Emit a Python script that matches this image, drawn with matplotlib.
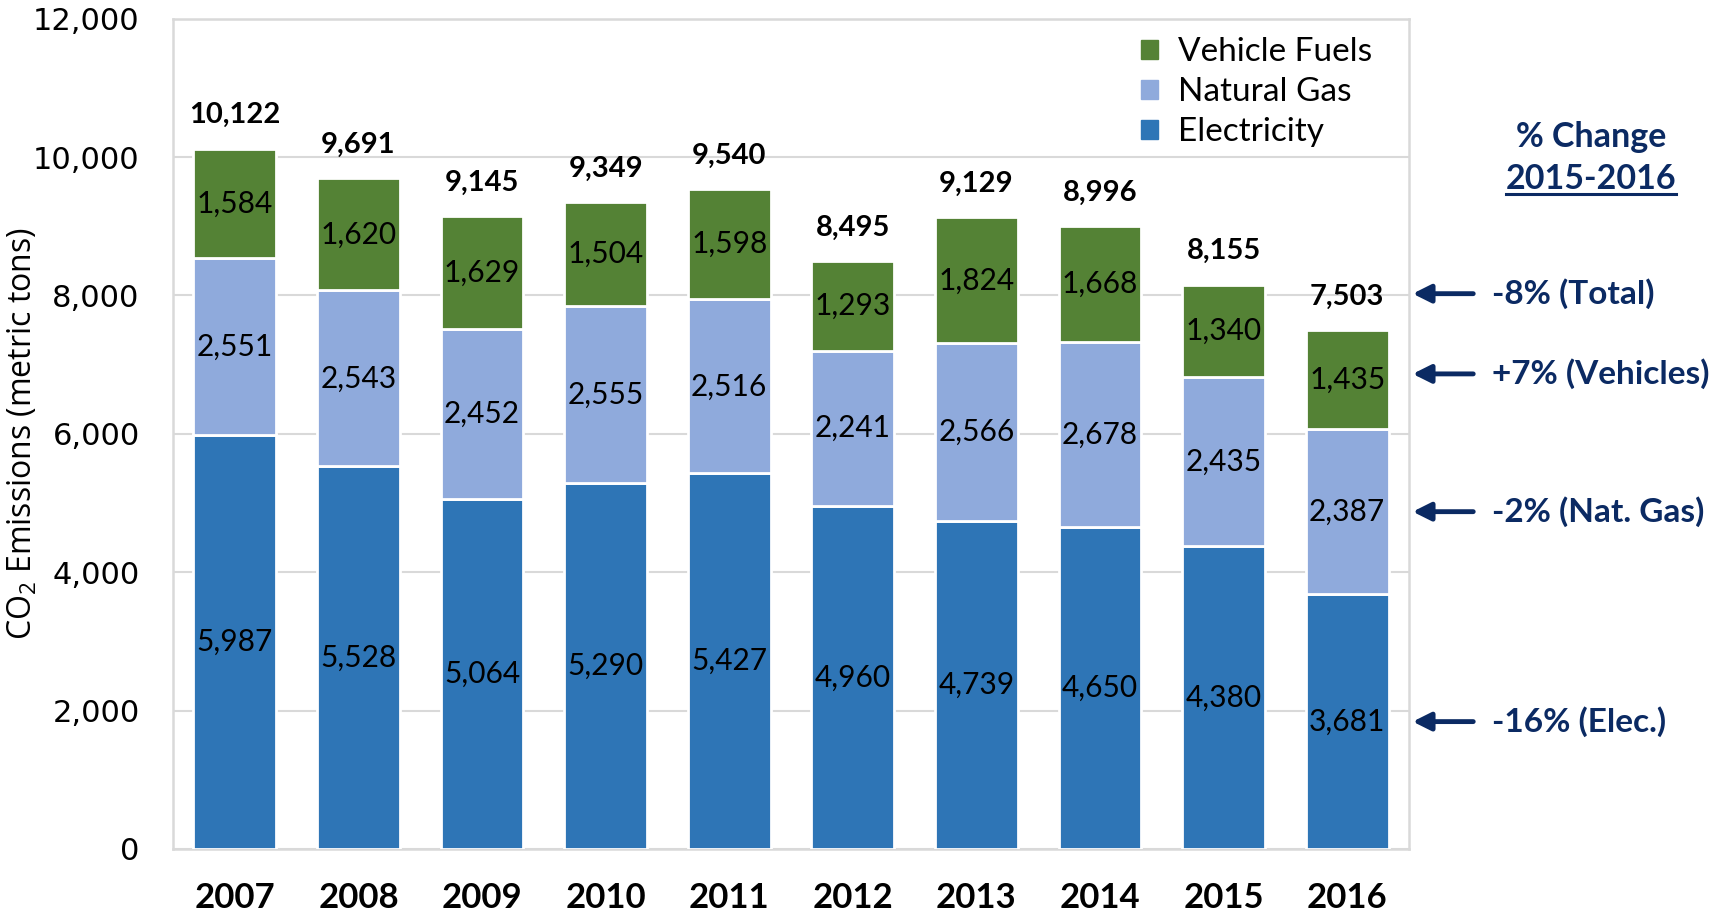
import matplotlib
matplotlib.use("Agg")
import matplotlib.pyplot as plt
import matplotlib.transforms as mtransforms
from matplotlib.patches import Patch
import numpy as np

years = ["2007", "2008", "2009", "2010", "2011", "2012", "2013", "2014", "2015", "2016"]
electricity = [5987, 5528, 5064, 5290, 5427, 4960, 4739, 4650, 4380, 3681]
natural_gas = [2551, 2543, 2452, 2555, 2516, 2241, 2566, 2678, 2435, 2387]
vehicle_fuels = [1584, 1620, 1629, 1504, 1598, 1293, 1824, 1668, 1340, 1435]
totals = [10122, 9691, 9145, 9349, 9540, 8495, 9129, 8996, 8155, 7503]
change_labels = ["-8% (Total)", "+7% (Vehicles)", "-2% (Nat. Gas)", "-16% (Elec.)"]

C_ELEC = "#2E75B6"
C_GAS = "#8FAADC"
C_VEH = "#548235"
NAVY = "#0B2A63"
GRID = "#D9D9D9"
FONT = "Lato"

plt.rcParams["font.family"] = [FONT, "DejaVu Sans"]
plt.rcParams["mathtext.fontset"] = "custom"
plt.rcParams["mathtext.rm"] = "Open Sans"

elec = np.array(electricity)
gas = np.array(natural_gas)
veh = np.array(vehicle_fuels)
x = np.arange(len(years))

fig = plt.figure(figsize=(17.17, 9.17), dpi=100)
ax = fig.add_axes([0.1008, 0.0742, 0.7198, 0.9055])

w = 0.67
ax.bar(x, elec, w, color=C_ELEC, edgecolor="white", linewidth=2, zorder=3)
ax.bar(x, gas, w, bottom=elec, color=C_GAS, edgecolor="white", linewidth=2, zorder=3)
ax.bar(x, veh, w, bottom=elec + gas, color=C_VEH, edgecolor="white", linewidth=2, zorder=3)

for i in range(len(years)):
    ax.text(x[i], elec[i] / 2, f"{elec[i]:,}", ha="center", va="center", fontsize=21.5, zorder=4)
    ax.text(x[i], elec[i] + gas[i] / 2, f"{gas[i]:,}", ha="center", va="center", fontsize=21.5, zorder=4)
    ax.text(x[i], elec[i] + gas[i] + veh[i] / 2, f"{veh[i]:,}", ha="center", va="center", fontsize=21.5, zorder=4)
    top = elec[i] + gas[i] + veh[i]
    ax.annotate(f"{totals[i]:,}", (x[i], top), xytext=(0, 24), textcoords="offset points",
                ha="center", va="center", fontsize=21, fontweight="bold")

ax.set_xlim(-0.5, len(years) - 0.5)
ax.set_ylim(0, 12000)
ax.set_yticks(np.arange(0, 12001, 2000))
ax.set_yticklabels([f"{v:,}" for v in range(0, 12001, 2000)], fontfamily="DejaVu Sans", fontsize=22)
ax.set_xticks(x)
ax.set_xticklabels(years, fontsize=25, fontweight="bold")
ax.tick_params(axis="y", length=0, pad=24)
ax.tick_params(axis="x", length=0, pad=24)
ax.grid(axis="y", color=GRID, linewidth=1.5, zorder=0)
ax.set_axisbelow(True)
for s in ax.spines.values():
    s.set_color(GRID)
    s.set_linewidth(1.8)
ax.set_ylabel("CO$_2$ Emissions (metric tons)", fontsize=23, fontfamily="Open Sans")
ax.yaxis.set_label_coords(-0.108, 0.5)

handles = [Patch(color=C_VEH), Patch(color=C_GAS), Patch(color=C_ELEC)]
ax.legend(handles, ["Vehicle Fuels", "Natural Gas", "Electricity"], loc="upper right",
          bbox_to_anchor=(0.985, 1.0), frameon=False, fontsize=24, handlelength=0.5,
          handleheight=0.5, handletextpad=0.6, labelspacing=0.3, borderaxespad=0.15)

# % change annotations for 2015-2016
blend = mtransforms.blended_transform_factory(ax.transAxes, ax.transData)
last = len(years) - 1
targets = [
    (mtransforms.offset_copy(blend, fig=fig, y=26, units="points"), elec[last] + gas[last] + veh[last]),
    (blend, elec[last] + gas[last] + veh[last] / 2 + 80),
    (blend, elec[last] + gas[last] / 2),
    (blend, elec[last] / 2),
]
for (tr, yv), lab in zip(targets, change_labels):
    ax.annotate("", xy=(1.003, yv), xycoords=tr, xytext=(1.052, yv), textcoords=tr,
                arrowprops=dict(arrowstyle="-|>", color=NAVY, lw=3.5, mutation_scale=27,
                                shrinkA=0, shrinkB=0), annotation_clip=False)
    ax.text(1.067, yv, lab, transform=tr, ha="left", va="center", fontsize=24,
            fontweight="bold", color=NAVY, clip_on=False)

fig.text(0.9267, 0.8506, "% Change", ha="center", va="center", fontsize=24.5, fontweight="bold", color=NAVY)
t2 = fig.text(0.9267, 0.8053, "2015-2016", ha="center", va="center", fontsize=24.5, fontweight="bold", color=NAVY)
fig.canvas.draw()
bb = t2.get_window_extent().transformed(fig.transFigure.inverted())
fig.add_artist(plt.Line2D([bb.x0, bb.x1], [bb.y0 + 0.001, bb.y0 + 0.001], color=NAVY, lw=2.2,
                          transform=fig.transFigure))

fig.savefig("out.png", dpi=100)
